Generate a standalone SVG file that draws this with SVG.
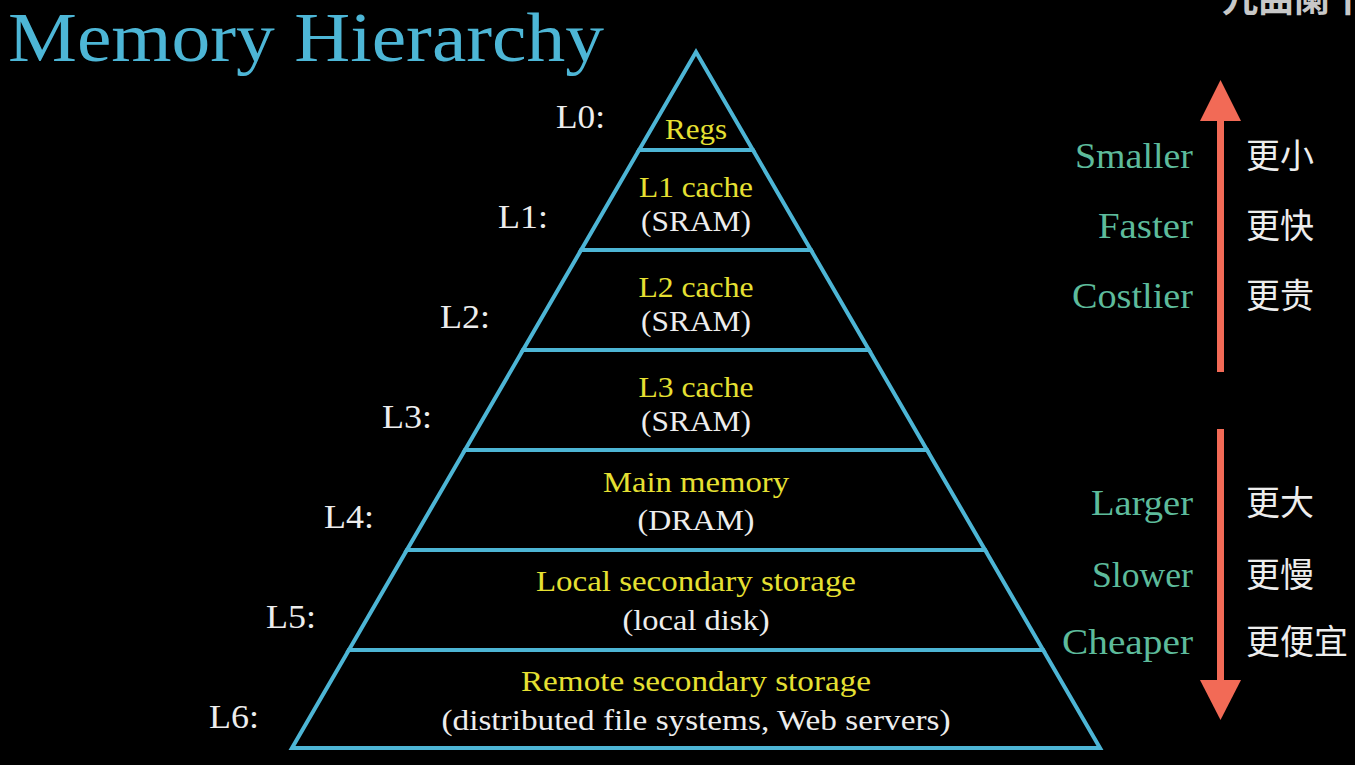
<svg xmlns="http://www.w3.org/2000/svg" width="1355" height="765" viewBox="0 0 1355 765">
<style>
.bg{fill:#000}
.lvl{fill:none;stroke:#4DB5D5;stroke-width:4;stroke-linejoin:miter;stroke-miterlimit:10}
.title{font-size:69px;fill:#4DB6D6}
.y{font-size:30px;fill:#E6E032;text-anchor:middle}
.w{font-size:30px;fill:#EDEDED;text-anchor:middle}
.lab{font-size:34px;fill:#EDEDED}
.g{font-size:36px;fill:#5DBB9B;text-anchor:end}
.cn{font-family:"Noto Sans CJK SC","Noto Sans CJK TC",sans-serif;font-size:34px;fill:#EDEDED}
.wm{font-family:"Noto Sans CJK SC",sans-serif;font-size:36px;font-weight:bold;fill:#C8C8C8}
.arr{fill:#F26A56}
</style>
<rect class="bg" x="0" y="0" width="1355" height="765"/>
<text class="wm" x="1222" y="12">九曲阑干</text>
<g font-family="'Liberation Serif', 'Times New Roman', serif">
<text class="title" x="8" y="61" textLength="596" lengthAdjust="spacingAndGlyphs">Memory Hierarchy</text>

<g id="L0">
<polygon class="lvl" points="696,52 752.9,150 639.1,150"/>
<text class="lab" x="556" y="128" textLength="49" lengthAdjust="spacingAndGlyphs">L0:</text>
<text class="y" x="696" y="139" textLength="62" lengthAdjust="spacingAndGlyphs">Regs</text>
</g>
<g id="L1">
<polygon class="lvl" points="639.1,150 752.9,150 810.9,250 581.1,250"/>
<text class="lab" x="498" y="228" textLength="50" lengthAdjust="spacingAndGlyphs">L1:</text>
<text class="y" x="696" y="197" textLength="114" lengthAdjust="spacingAndGlyphs">L1 cache</text>
<text class="w" x="696" y="231" textLength="110" lengthAdjust="spacingAndGlyphs">(SRAM)</text>
</g>
<g id="L2">
<polygon class="lvl" points="581.1,250 810.9,250 869,350 523,350"/>
<text class="lab" x="440" y="328" textLength="50" lengthAdjust="spacingAndGlyphs">L2:</text>
<text class="y" x="696" y="297" textLength="115" lengthAdjust="spacingAndGlyphs">L2 cache</text>
<text class="w" x="696" y="331" textLength="110" lengthAdjust="spacingAndGlyphs">(SRAM)</text>
</g>
<g id="L3">
<polygon class="lvl" points="523,350 869,350 927,450 465,450"/>
<text class="lab" x="382" y="428" textLength="50" lengthAdjust="spacingAndGlyphs">L3:</text>
<text class="y" x="696" y="397" textLength="115" lengthAdjust="spacingAndGlyphs">L3 cache</text>
<text class="w" x="696" y="431" textLength="110" lengthAdjust="spacingAndGlyphs">(SRAM)</text>
</g>
<g id="L4">
<polygon class="lvl" points="465,450 927,450 985.1,550 406.9,550"/>
<text class="lab" x="324" y="528" textLength="50" lengthAdjust="spacingAndGlyphs">L4:</text>
<text class="y" x="696" y="492" textLength="186" lengthAdjust="spacingAndGlyphs">Main memory</text>
<text class="w" x="696" y="530" textLength="117" lengthAdjust="spacingAndGlyphs">(DRAM)</text>
</g>
<g id="L5">
<polygon class="lvl" points="406.9,550 985.1,550 1043.1,650 348.9,650"/>
<text class="lab" x="266" y="628" textLength="50" lengthAdjust="spacingAndGlyphs">L5:</text>
<text class="y" x="696" y="591" textLength="320" lengthAdjust="spacingAndGlyphs">Local secondary storage</text>
<text class="w" x="696" y="630" textLength="147" lengthAdjust="spacingAndGlyphs">(local disk)</text>
</g>
<g id="L6">
<polygon class="lvl" points="348.9,650 1043.1,650 1100,748 292,748"/>
<text class="lab" x="209" y="728" textLength="50" lengthAdjust="spacingAndGlyphs">L6:</text>
<text class="y" x="696" y="691" textLength="350" lengthAdjust="spacingAndGlyphs">Remote secondary storage</text>
<text class="w" x="696" y="730" textLength="509" lengthAdjust="spacingAndGlyphs">(distributed file systems, Web servers)</text>
</g>

<g id="up-labels">
<text class="g" x="1193" y="168" textLength="118" lengthAdjust="spacingAndGlyphs">Smaller</text>
<text class="g" x="1193" y="238" textLength="95" lengthAdjust="spacingAndGlyphs">Faster</text>
<text class="g" x="1193" y="308" textLength="121" lengthAdjust="spacingAndGlyphs">Costlier</text>
</g>
<g id="down-labels">
<text class="g" x="1193" y="515" textLength="102" lengthAdjust="spacingAndGlyphs">Larger</text>
<text class="g" x="1193" y="587" textLength="101" lengthAdjust="spacingAndGlyphs">Slower</text>
<text class="g" x="1193" y="654" textLength="131" lengthAdjust="spacingAndGlyphs">Cheaper</text>
</g>
</g>

<g id="connectors">
<rect class="arr" x="1217" y="118" width="7" height="254"/>
<polygon class="arr" points="1220.5,80 1241,121 1200,121"/>
<rect class="arr" x="1217" y="429" width="7" height="254"/>
<polygon class="arr" points="1200,680 1241,680 1220.5,720"/>
</g>

<g id="cn-labels">
<text class="cn" x="1246" y="168">更小</text>
<text class="cn" x="1246" y="238">更快</text>
<text class="cn" x="1246" y="308">更贵</text>
<text class="cn" x="1246" y="515">更大</text>
<text class="cn" x="1246" y="587">更慢</text>
<text class="cn" x="1246" y="654">更便宜</text>
</g>
</svg>
